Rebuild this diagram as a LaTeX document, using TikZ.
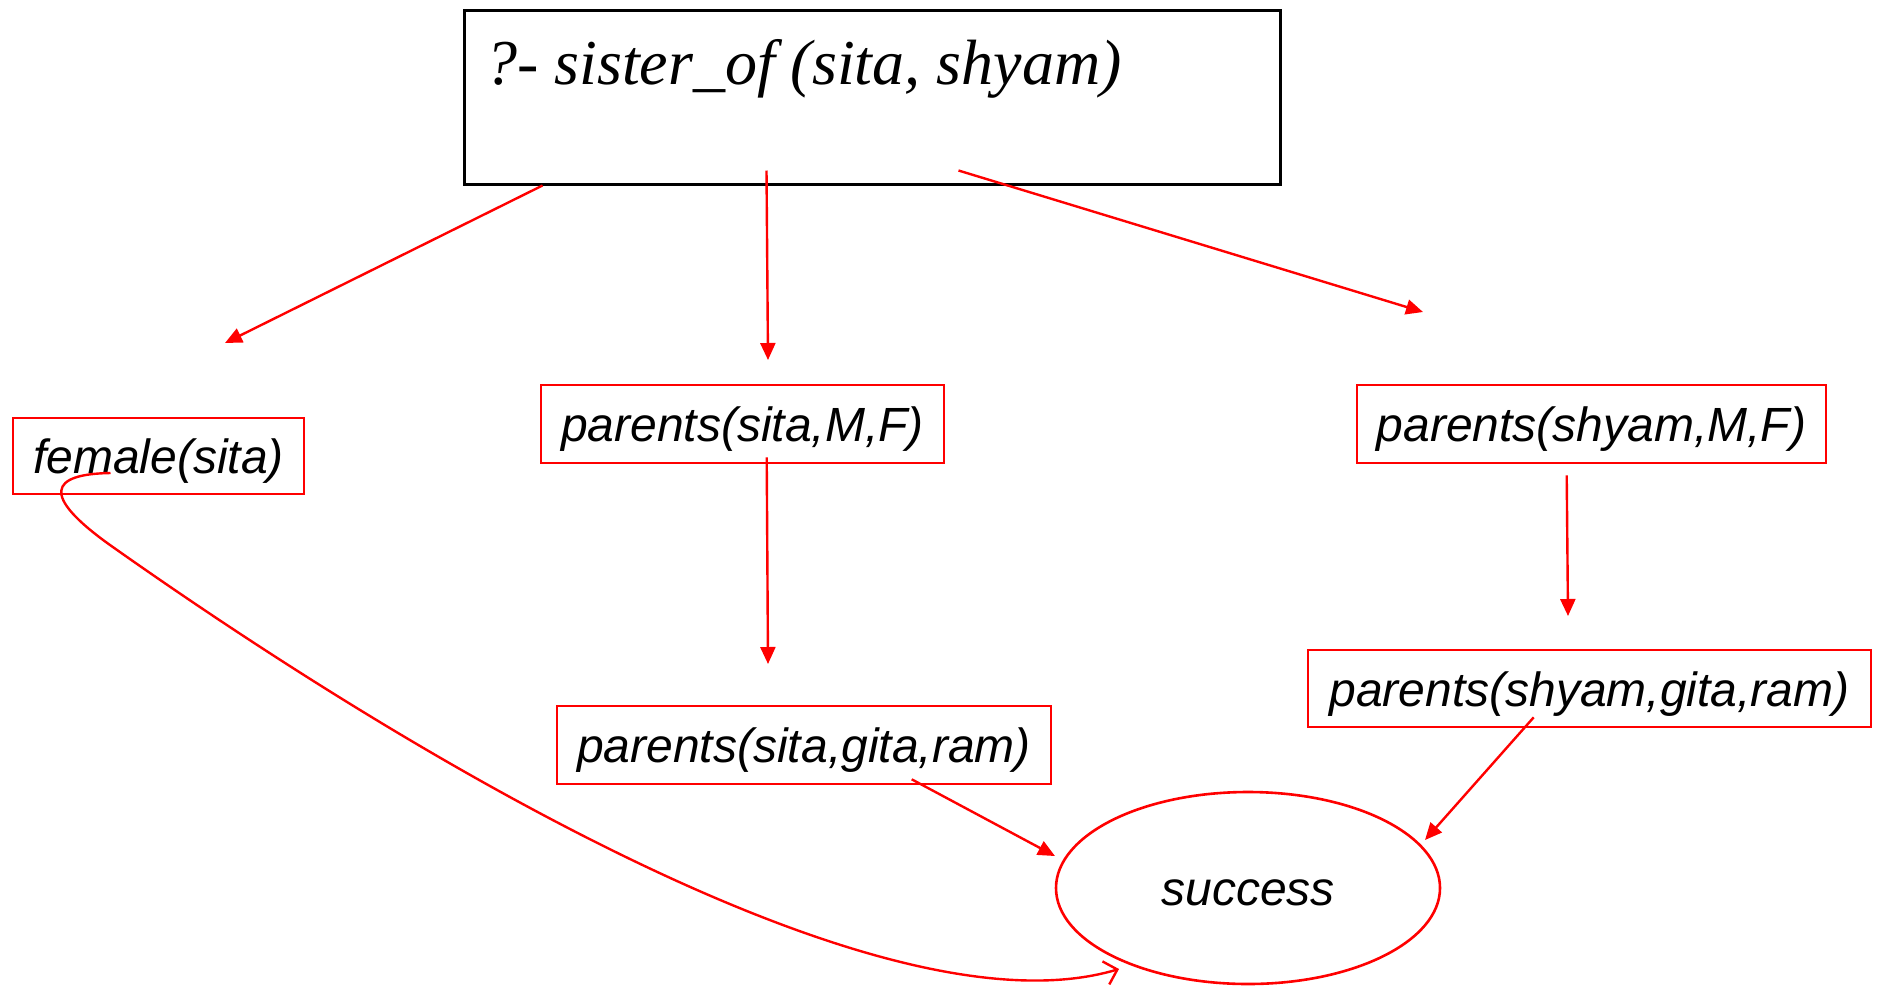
\documentclass[tikz,border=0pt]{standalone}
\usepackage{fontspec}
\setmainfont{Liberation Sans}
\newfontfamily\querysfont{Liberation Serif}
\usetikzlibrary{shapes.geometric, arrows.meta}
\tikzset{
    goal_node/.style={rectangle, draw=red, line width=2.6pt, text centered, align=center, inner sep=0pt,
        text height=40pt, text depth=5pt, font=\fontsize{48}{56}\selectfont\itshape},
    query_node/.style={rectangle, draw=black, line width=3pt, minimum width=816pt, minimum height=174pt},
    query_text/.style={anchor=base west, inner sep=0pt, font=\querysfont\fontsize{64}{70}\selectfont\itshape},
    success_node/.style={ellipse, draw=red, line width=2.6pt, minimum width=384pt, minimum height=192pt, inner sep=0pt,
        text height=40pt, text depth=5pt, font=\fontsize{48}{56}\selectfont\itshape},
    arrow/.style={red, line width=2.4pt, -{Triangle[length=17pt, width=15pt]}},
    open_arrow/.style={red, line width=2.4pt, -{Straight Barb[length=12pt, width=24pt]}},
}

\begin{document}
\begin{tikzpicture}[x=1pt, y=-1pt]
      \useasboundingbox (0,0) rectangle (1881,986);
      %%%%%%%%%%%%%%%
      % Query       %
      %%%%%%%%%%%%%%%
      \node (query) [query_node] at (872,97) {};
      \node (querytext) [query_text] at (485,84) {?- sister\_of (sita, shyam)};

      %%%%%%%%%%%%%%%
      % Sub goals   %
      %%%%%%%%%%%%%%%
      \node (female) [goal_node, minimum width=291pt, minimum height=76pt] at (158.5,456)
          {female(sita)};
      \node (sitamf) [goal_node, minimum width=403pt, minimum height=78pt] at (742.5,424)
          {parents(sita,M,F)};
      \node (shyammf) [goal_node, minimum width=469pt, minimum height=78pt] at (1591.5,424)
          {parents(shyam,M,F)};
      \node (sitagr) [goal_node, minimum width=494pt, minimum height=78pt] at (804,745)
          {parents(sita,gita,ram)};
      \node (shyamgr) [goal_node, minimum width=563pt, minimum height=77pt] at (1589.5,688.5)
          {parents(shyam,gita,ram)};
      \node (success) [success_node] at (1248,888)
          {success};

      % free ends of the arrows
      \coordinate (to_female) at (225,343);
      \coordinate (to_sitamf) at (768,360);
      \coordinate (to_shyammf) at (1423,312);
      \coordinate (to_sitagr) at (768,664);
      \coordinate (to_shyamgr) at (1568,616);
      \coordinate (succ_left) at (1055,856);
      \coordinate (succ_right) at (1425,840);
      \coordinate (succ_bottom) at (1119,969);

      \draw [arrow] (query.south west) ++(80,0) -- (to_female);
      \draw [arrow] (query.south west) ++(304,-15) -- (to_sitamf);
      \draw [arrow] (query.south west) ++(496,-15) -- (to_shyammf);
      \draw [arrow] (sitamf.south west) ++(227,-7) -- (to_sitagr);
      \draw [arrow] (shyammf.south west) ++(211,11) -- (to_shyamgr);
      \draw [arrow] (sitagr.south west) ++(356,-6) -- (succ_left);
      \draw [arrow] (shyamgr.south west) ++(227,-11) -- (succ_right);
      \draw [open_arrow] (female.center) ++(-48,17)
          .. controls (50,474) and (40,495) .. (110,545)
          .. controls (400,750) and (880,1040) .. (succ_bottom);
    \end{tikzpicture}
\end{document}
